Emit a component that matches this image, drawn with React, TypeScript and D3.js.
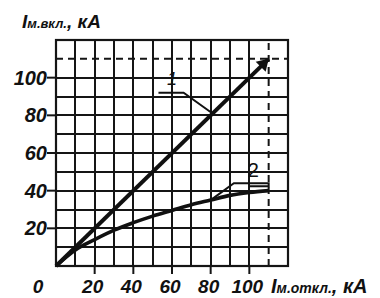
import React from "react";
import * as d3 from "d3";

const xTickValues = [20, 40, 60, 80, 100];
const yTickValues = [20, 40, 60, 80, 100];
const gridValues = [0, 10, 20, 30, 40, 50, 60, 70, 80, 90, 100, 120];
const dashedValue = 110;
const line1X = [0, 110];
const line1Y = [0, 110];
const curve2X = [0, 10, 20, 30, 40, 50, 60, 70, 80, 90, 100, 110];
const curve2Y = [0, 8.5, 14, 19, 23, 26.5, 29.5, 32.5, 35, 37.5, 39, 40];
const yTitleMain = "I";
const yTitleSub = "м.вкл.";
const yTitleUnit = ", кА";
const xTitleMain = "I";
const xTitleSub = "м.откл.";
const xTitleUnit = ", кА";

const FONT = "'Liberation Sans', Arial, sans-serif";

export default function App() {
  const x = d3.scaleLinear().domain([0, 120]).range([56, 288]);
  const y = d3.scaleLinear().domain([0, 120]).range([266, 40]);
  const line = d3
    .line<[number, number]>()
    .x((d) => x(d[0]))
    .y((d) => y(d[1]));
  const smooth = d3
    .line<[number, number]>()
    .x((d) => x(d[0]))
    .y((d) => y(d[1]))
    .curve(d3.curveMonotoneX);

  const l1 = line1X.map((v, i) => [v, line1Y[i]] as [number, number]);
  const c2 = curve2X.map((v, i) => [v, curve2Y[i]] as [number, number]);

  const gp = d3.path();
  gridValues.forEach((g) => {
    const gx = Math.round(x(g));
    gp.moveTo(gx, y(0));
    gp.lineTo(gx, y(120));
    const gy = Math.round(y(g));
    gp.moveTo(x(0), gy);
    gp.lineTo(x(120), gy);
  });

  const leader1 = d3.line()([
    [x(53), y(92)],
    [x(66), y(92)],
    [x(81), y(81)],
  ]);
  const leader2 = d3.line()([
    [x(80), y(35)],
    [x(92), y(44)],
    [x(110), y(44)],
    [x(110), y(42.3)],
    [x(100), y(42.3)],
  ]);

  const ex = x(line1X[1]);
  const ey = y(line1Y[1]);

  return (
    <svg
      width={380}
      height={298}
      style={{ position: "absolute", left: 0, top: 0, background: "#fff" }}
      fontFamily={FONT}
    >
      <rect width={380} height={298} fill="#fff" />
      <path d={gp.toString()} fill="none" stroke="#151515" strokeWidth={2} />
      <line x1={x(dashedValue)} x2={x(dashedValue)} y1={y(0)} y2={y(120)} stroke="#151515" strokeWidth={2} strokeDasharray="7,5" />
      <line x1={x(0)} x2={x(120)} y1={y(dashedValue)} y2={y(dashedValue)} stroke="#151515" strokeWidth={2} strokeDasharray="7,5" />
      <rect x={x(0)} y={y(120)} width={x(120) - x(0)} height={y(0) - y(120)} fill="none" stroke="#151515" strokeWidth={2.2} />
      {xTickValues.map((t) => (
        <line key={"xt" + t} x1={x(t)} x2={x(t)} y1={y(0)} y2={y(0) + 8} stroke="#151515" strokeWidth={2} />
      ))}
      {yTickValues.map((t) => (
        <line key={"yt" + t} x1={x(0) - 9} x2={x(0)} y1={y(t)} y2={y(t)} stroke="#151515" strokeWidth={2} />
      ))}
      {xTickValues.map((t) => (
        <text key={"xl" + t} x={x(t) - 2} y={293} textAnchor="middle" fontSize={19} fontWeight="bold" fontStyle="italic" fill="#111">
          {t}
        </text>
      ))}
      <text x={38} y={293} textAnchor="middle" fontSize={19} fontWeight="bold" fontStyle="italic" fill="#111">0</text>
      {yTickValues.map((t) => (
        <text key={"yl" + t} x={47} y={y(t) + 7} textAnchor="end" fontSize={20} fontWeight="bold" fontStyle="italic" fill="#111">
          {t}
        </text>
      ))}
      <path d={line(l1) || ""} fill="none" stroke="#111" strokeWidth={4} />
      <path d={`M${ex},${ey} l-13,3 l10,10 z`} fill="#111" />
      <path d={smooth(c2) || ""} fill="none" stroke="#111" strokeWidth={3.6} />
      <path d={leader1 || ""} fill="none" stroke="#111" strokeWidth={2} />
      <path d={leader2 || ""} fill="none" stroke="#111" strokeWidth={2} />
      <text x={x(60)} y={y(96)} fontSize={18} fontStyle="italic" fill="#111" textAnchor="middle">1</text>
      <text x={x(102)} y={y(47)} fontSize={20} fill="#111" textAnchor="middle">2</text>
      <text x={22} y={28} fontWeight="bold" fontStyle="italic" fill="#111" fontSize={19}>
        <tspan>{yTitleMain}</tspan>
        <tspan fontSize={13}>{yTitleSub}</tspan>
        <tspan>{yTitleUnit}</tspan>
      </text>
      <text x={271} y={293} fontWeight="bold" fontStyle="italic" fill="#111" fontSize={20}>
        <tspan>{xTitleMain}</tspan>
        <tspan fontSize={14}>{xTitleSub}</tspan>
        <tspan>{xTitleUnit}</tspan>
      </text>
    </svg>
  );
}
